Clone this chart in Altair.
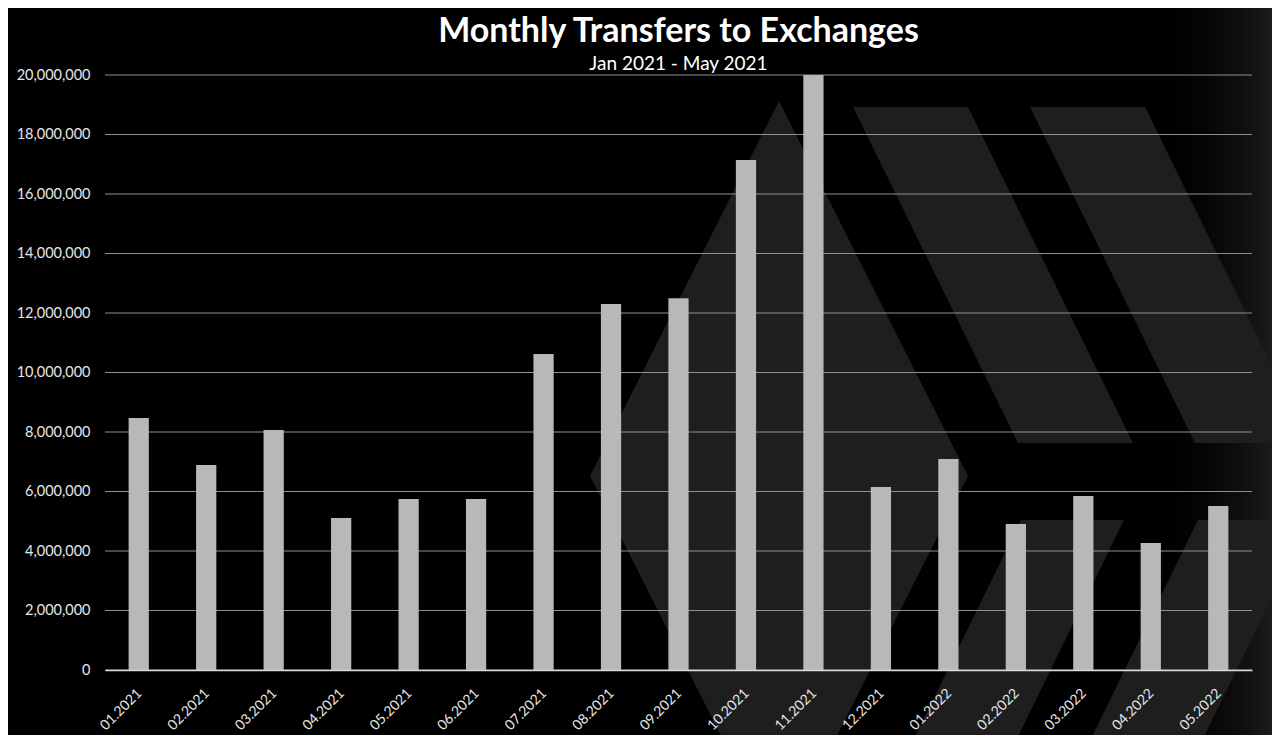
import altair as alt
import pandas as pd
from urllib.parse import quote

months = ["01.2021", "02.2021", "03.2021", "04.2021", "05.2021", "06.2021",
          "07.2021", "08.2021", "09.2021", "10.2021", "11.2021", "12.2021",
          "01.2022", "02.2022", "03.2022", "04.2022", "05.2022"]
transfers = [8470000, 6890000, 8070000, 5110000, 5750000, 5750000,
             10620000, 12300000, 12500000, 17140000, 20000000, 6150000,
             7090000, 4910000, 5850000, 4270000, 5510000]
y_ticks = list(range(0, 20000001, 2000000))

df = pd.DataFrame({"month": months, "value": transfers})
grid_df = pd.DataFrame({"tick": y_ticks})

FONT = "Lato"

# decorative watermark (background image, not data)
logo_svg = (
    '<svg xmlns="http://www.w3.org/2000/svg" width="1264" height="727" viewBox="8 8 1264 727">'
    '<defs><linearGradient id="g" x1="0" x2="1" y1="0" y2="0">'
    '<stop offset="0.9" stop-color="#000" stop-opacity="0"/>'
    '<stop offset="1" stop-color="#1f1f1f" stop-opacity="1"/></linearGradient></defs>'
    '<rect x="0" y="0" width="1280" height="743" fill="url(#g)"/>'
    '<g fill="#1e1e1f">'
    '<polygon points="779,101 590,476 779,851 968,476"/>'
    '<polygon points="853,107 968,107 1133,443 1018,443"/>'
    '<polygon points="1030,107 1145,107 1310,443 1195,443"/>'
    '<polygon points="1021,520 1124,520 962,851 859,851"/>'
    '<polygon points="1198,520 1310,520 1148,851 1036,851"/>'
    '</g></svg>'
)
logo_url = "data:image/svg+xml;charset=utf-8," + quote(logo_svg)

x_enc = alt.X("month:N", sort=months, title=None,
              scale=alt.Scale(paddingInner=0.7, paddingOuter=0.35),
              axis=alt.Axis(labelAngle=-45, labelAlign="right", labelBaseline="top",
                            labelColor="#e6e6e6", labelFont=FONT, labelFontSize=14,
                            ticks=False, domainColor="#d9d9d9", domainWidth=1.5,
                            labelPadding=16, labelOffset=-4, grid=False, zindex=1))
y_scale = alt.Scale(domain=[0, 20000000], nice=False)

logo = alt.Chart(pd.DataFrame({"a": [0]})).mark_image(
    url=logo_url, width=1264, height=727, align="left", baseline="top", aspect=False
).encode(x=alt.value(-97), y=alt.value(-67))

grid = alt.Chart(grid_df).mark_rule(color="#8f8f8f", strokeWidth=1).encode(
    y=alt.Y("tick:Q", scale=y_scale, title=None,
            axis=alt.Axis(values=y_ticks, format=",d", labelColor="#e6e6e6",
                          labelFont=FONT, labelFontSize=14.5, ticks=False, domain=False,
                          labelPadding=15, grid=False, zindex=1))
)

bars = alt.Chart(df).mark_bar(color="#b8b8b8").encode(
    x=x_enc,
    y=alt.Y("value:Q", scale=y_scale, title=None),
)

chart = alt.layer(logo, grid, bars).properties(
    width=1147, height=595,
    autosize=alt.AutoSizeParams(type="none"),
    padding={"left": 97, "top": 67, "right": 20, "bottom": 65},
    background="#000000",
    title=alt.TitleParams(
        text="Monthly Transfers to Exchanges",
        subtitle="Jan 2021 - May 2021",
        color="#ffffff", subtitleColor="#ffffff",
        font=FONT, fontSize=34, fontWeight="bold",
        subtitleFont=FONT, subtitleFontSize=19,
        anchor="middle", offset=-66, subtitlePadding=6,
    ),
).configure_view(stroke=None)

chart.save("out.html", embed_options={"renderer": "svg", "actions": False})
